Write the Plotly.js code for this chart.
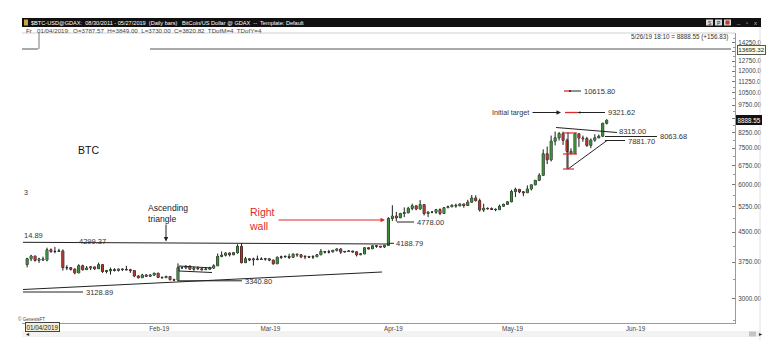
<!DOCTYPE html>
<html><head><meta charset="utf-8">
<script src="https://cdn.plot.ly/plotly-3.0.1.min.js"></script>
<style>html,body{margin:0;padding:0;background:#fff;}#chart{width:783px;height:355px;}</style>
</head><body><div id="chart"></div>
<script>
const dates = [
'2019-01-01','2019-01-02','2019-01-03','2019-01-04','2019-01-05','2019-01-06','2019-01-07','2019-01-08','2019-01-09','2019-01-10',
'2019-01-11','2019-01-12','2019-01-13','2019-01-14','2019-01-15','2019-01-16','2019-01-17','2019-01-18','2019-01-19','2019-01-20',
'2019-01-21','2019-01-22','2019-01-23','2019-01-24','2019-01-25','2019-01-26','2019-01-27','2019-01-28','2019-01-29','2019-01-30','2019-01-31',
'2019-02-01','2019-02-02','2019-02-03','2019-02-04','2019-02-05','2019-02-06','2019-02-07','2019-02-08','2019-02-09','2019-02-10',
'2019-02-11','2019-02-12','2019-02-13','2019-02-14','2019-02-15','2019-02-16','2019-02-17','2019-02-18','2019-02-19','2019-02-20',
'2019-02-21','2019-02-22','2019-02-23','2019-02-24','2019-02-25','2019-02-26','2019-02-27','2019-02-28',
'2019-03-01','2019-03-02','2019-03-03','2019-03-04','2019-03-05','2019-03-06','2019-03-07','2019-03-08','2019-03-09','2019-03-10',
'2019-03-11','2019-03-12','2019-03-13','2019-03-14','2019-03-15','2019-03-16','2019-03-17','2019-03-18','2019-03-19','2019-03-20',
'2019-03-21','2019-03-22','2019-03-23','2019-03-24','2019-03-25','2019-03-26','2019-03-27','2019-03-28','2019-03-29','2019-03-30','2019-03-31',
'2019-04-01','2019-04-02','2019-04-03','2019-04-04','2019-04-05','2019-04-06','2019-04-07','2019-04-08','2019-04-09','2019-04-10',
'2019-04-11','2019-04-12','2019-04-13','2019-04-14','2019-04-15','2019-04-16','2019-04-17','2019-04-18','2019-04-19','2019-04-20',
'2019-04-21','2019-04-22','2019-04-23','2019-04-24','2019-04-25','2019-04-26','2019-04-27','2019-04-28','2019-04-29','2019-04-30',
'2019-05-01','2019-05-02','2019-05-03','2019-05-04','2019-05-05','2019-05-06','2019-05-07','2019-05-08','2019-05-09','2019-05-10',
'2019-05-11','2019-05-12','2019-05-13','2019-05-14','2019-05-15','2019-05-16','2019-05-17','2019-05-18','2019-05-19','2019-05-20',
'2019-05-21','2019-05-22','2019-05-23','2019-05-24','2019-05-25','2019-05-26','2019-05-27'];

const opens = [
3693,3826,3890,3787.57,3820.82,3798,4040,3997,4000,4010,3625,3622,3590,3510,3665,3580,3617,3640,3600,3690,3540,3555,3580,3565,3592,3585,3577,3560,3445,3410,3465,
3440,3465,3505,3415,3410,3435,3370,3360,3625,3620,3660,3590,3610,3600,3580,3590,3615,3665,3880,3910,3960,3920,3970,4125,3735,3825,3800,3820,
3810,3820,3825,3795,3710,3860,3870,3880,3860,3935,3920,3870,3880,3865,3875,3920,4000,3985,3990,4030,4060,3985,4000,4010,3990,3920,3940,4090,4065,4140,4130,
4110,4150,4890,4960,4910,5040,5060,5200,5280,5180,5320,5040,5080,5080,5160,5040,5220,5250,5300,5280,5340,5290,5400,5540,5450,5150,5200,5190,5170,5160,
5270,5330,5410,5760,5840,5750,5720,5850,6000,6170,6360,7250,6990,7830,7990,8200,7870,7360,7260,8190,7980,7950,7630,7880,7990,8070,8730];

const highs = [
3850,3918,3893,3849,3875,4093,4075,4112,4065,4050,3680,3635,3610,3700,3690,3660,3655,3645,3735,3700,3575,3625,3612,3600,3605,3665,3600,3565,3460,3490,3485,
3480,3510,3505,3435,3450,3440,3390,3720,3645,3665,3665,3645,3650,3610,3640,3645,3700,3950,4000,3980,3980,3985,4180,4210,3870,3830,3850,3900,
3860,3840,3830,3805,3880,3900,3905,3945,3950,3945,3925,3910,3885,3910,3930,4060,4010,4040,4035,4070,4080,4010,4020,4015,4000,3950,4100,4095,4150,4150,4130,
4165,4930,5300,5090,5060,5230,5250,5350,5285,5470,5330,5110,5110,5180,5200,5240,5290,5330,5350,5360,5350,5480,5640,5630,5520,5350,5230,5230,5200,5320,
5350,5430,5820,5900,5850,5780,5980,6000,6180,6440,7450,7580,8100,8300,8280,8300,7950,7500,8250,8190,8100,8040,7960,8170,8150,8760,8950];

const lows = [
3630,3770,3758,3730,3780,3765,3968,3955,3985,3560,3570,3560,3480,3505,3560,3575,3570,3575,3595,3510,3500,3475,3540,3540,3550,3570,3510,3420,3390,3400,3430,
3425,3445,3400,3390,3400,3350,3340.8,3350,3600,3590,3585,3555,3580,3560,3575,3590,3600,3660,3860,3880,3880,3910,3945,3720,3735,3770,3670,3790,
3800,3780,3770,3690,3705,3820,3850,3820,3855,3870,3840,3815,3840,3820,3860,3910,3950,3950,3975,4000,3940,3975,3985,3970,3880,3910,3935,4050,4060,4090,4100,
4085,4150,4815,4800,4900,4930,5050,5140,5140,5160,4980,4930,5050,5030,4990,5030,5210,5240,5220,5270,5220,5280,5390,5420,5100,5090,5160,5150,5110,5150,
5260,5320,5400,5570,5700,5600,5715,5800,5990,6140,6360,6810,6920,7630,7860,7650,6600,7230,7260,7560,7800,7560,7500,7800,7970,8040,8670];

const closes = [
3826,3890,3787.57,3820.82,3798,4040,3997,4000,4010,3625,3622,3590,3510,3665,3580,3617,3640,3600,3690,3540,3555,3580,3565,3592,3585,3577,3560,3445,3410,3465,3440,
3465,3505,3415,3410,3435,3370,3360,3625,3620,3660,3590,3610,3600,3580,3590,3615,3665,3880,3910,3960,3920,3970,4125,3735,3825,3800,3820,3810,
3820,3825,3795,3710,3860,3870,3880,3860,3935,3920,3870,3880,3865,3875,3920,4000,3985,3990,4030,4060,3985,4000,4010,3990,3920,3940,4090,4065,4140,4130,4110,
4150,4890,4960,4910,5040,5060,5200,5280,5180,5320,5040,5080,5080,5160,5040,5220,5250,5300,5280,5340,5290,5400,5540,5450,5150,5200,5190,5170,5160,5270,
5330,5410,5760,5840,5750,5720,5850,6000,6170,6360,7250,6990,7830,7990,8200,7870,7360,7260,8190,7980,7950,7630,7880,7990,8070,8730,8888.55];

const yTickVals = [3000,3750,4500,5250,6000,6750,7500,8250,9000,9750,10500,11250,12000,12750,13500,14250];
const yTickText = ['3000.00','3750.00','4500.00','5250.00','6000.00','6750.00','7500.00','8250.00','','9750.00','10500.0','11250.0','12000.0','12750.0','','14250.0'];
const yMinorVals = [2625,3375,4125,4875,5625,6375,7125,7875,8625,9375,10125,10875,11625,12375,13125,13875,14625];
const xTickVals = ['2019-02-01','2019-03-01','2019-04-01','2019-05-01','2019-06-01'];
const xTickText = ['Feb-19','Mar-19','Apr-19','May-19','Jun-19'];

// ---- pixel helpers for decorations (plot area 22..735 x 33..323) ----
const PL=22, PR=735, PT=33, PB=323;
const px = x => (x-PL)/(PR-PL);
const py = y => (PB-y)/(PB-PT);
const FONT = 'Arial, "Liberation Sans", sans-serif';
const shapes = [];
const ann = [];
function Ln(x0,y0,x1,y1,color,w,dash){shapes.push({type:'line',xref:'paper',yref:'paper',x0:px(x0),y0:py(y0),x1:px(x1),y1:py(y1),line:{color:color||'#222',width:w||1,dash:dash||'solid'}});}
function Rect(x0,y0,x1,y1,fill,layer){shapes.push({type:'rect',xref:'paper',yref:'paper',x0:px(x0),y0:py(y0),x1:px(x1),y1:py(y1),fillcolor:fill,line:{color:'rgba(0,0,0,0)',width:0},layer:layer||'above'});}
function Dot(x,y,r,c){shapes.push({type:'circle',xref:'paper',yref:'paper',x0:px(x-r),y0:py(y+r),x1:px(x+r),y1:py(y-r),fillcolor:c,line:{color:c,width:0}});}
function T(x,y,text,size,color,anchor,extra){ann.push(Object.assign({xref:'paper',yref:'paper',x:px(x),y:py(y),text:text,showarrow:false,xanchor:anchor||'left',yanchor:'middle',font:{family:FONT,size:size||7.5,color:color||'#333'},borderpad:0,align:'left'},extra||{}));}
function Arrow(hx,hy,tx,ty,color){ann.push({xref:'paper',yref:'paper',x:px(hx),y:py(hy),ax:tx-hx,ay:ty-hy,axref:'pixel',ayref:'pixel',text:'',showarrow:true,arrowhead:2,arrowsize:0.9,arrowwidth:1,arrowcolor:color});}

// window frame / header
Rect(22,18,761,27,'#111');
Rect(24,19.5,28,25.5,'#c9a640');
T(30,22.6,'$BTC-USD@GDAX:  08/30/2011 - 05/27/2019  (Daily bars)   BitCoin/US Dollar @ GDAX  --  Template: Default',5.6,'#ffffff');
Rect(706,19.5,713,25.5,'#d8d8d8'); T(709.5,22.6,'S',5,'#222','center');
Rect(715,19.5,722,25.5,'#d8d8d8'); T(718.5,22.6,'P',5,'#222','center');
Rect(724,19.5,731,25.5,'#d8d8d8'); Rect(725.5,20.5,729.5,24.5,'#c0392b');
T(738,22,'_',6,'#bbb','center'); T(747,22.6,'▫',6,'#bbb','center'); T(756,22.6,'x',6,'#bbb','center');
T(25,30,'Fr   01/04/2019:  O=3787.57  H=3849.00  L=3730.00  C=3820.82  TDofM=4  TDofY=4',6.2,'#444');
Ln(22,33,735,33,'#d0d0d0',1);
Ln(760,27,760,340,'#e2e2e2',1);
T(729,37,'5/26/19 18:10 = 8888.55 (+156.83)',6.3,'#333','right');
// crosshair
Ln(39,33,39,49,'#777',1);
Ln(22,49,38,49,'#555',1);
Ln(150,49,731,49,'#555',1);
T(737,50,'13695.32',6.2,'#222','left',{bgcolor:'#fdfbe3',bordercolor:'#555',borderwidth:1,borderpad:0.3});
T(736,119.5,'8888.55',6.3,'#ffffff','left',{bgcolor:'#111',bordercolor:'#111',borderwidth:1,borderpad:0.5});

// text labels
T(77,149.5,'BTC',10.5,'#111');
T(23,192,'3',7,'#333');
T(23,235.5,'14.89',7.5,'#333');
// resistance
Ln(23,242.3,389,244,'#222',1);
T(78,241.7,'4299.37',7.5,'#333');
// support
Ln(23,289.5,382,272,'#222',1);
Ln(23,292,83,292,'#222',1);
T(85,292.5,'3128.89',7.5,'#333');
Ln(178,280.8,242,280.8,'#222',1);
T(244,281.3,'3340.80',7.5,'#333');
// flag
Ln(179,266,212,268,'#222',1);
Ln(179,271,212,272.5,'#222',1);
Ln(179,266,179,271,'#222',1);
// ascending triangle text + arrow
T(147,213,'Ascending<br>triangle',8.6,'#222');
Arrow(166,241.5,166,223,'#222');
// right wall
T(248,219,'Right<br>wall',10.5,'#e02a2a');
Arrow(385,220,277,220,'#e02a2a');
// April labels
Ln(389,243.3,394,243.3,'#222',1);
T(395,243.5,'4188.79',7.5,'#333');
Ln(397,222,414,222,'#222',1);
T(416,222.3,'4778.00',7.5,'#333');
// targets
Ln(564,91,570,91,'#e02a2a',1.3);
Ln(570,91,581,91,'#222',1);
Dot(570,91,1,'#222');
T(583,91.3,'10615.80',7.5,'#333');
Ln(565,112.5,578,112.5,'#e02a2a',1.3);
Ln(578,112.5,605,112.5,'#222',1);
Dot(580,112.5,1,'#222');
T(607,112.6,'9321.62',7.5,'#333');
T(530,112.3,'Initial target',7.2,'#333','right');
Arrow(561,112.5,531,112.5,'#222');
// symmetrical triangle
Ln(556,127.5,617,132.5,'#222',1);
Ln(568,169,607,140.5,'#222',1);
Ln(568,132,568,169,'#222',1);
Ln(563,133,577,133,'#e02a2a',1.2);
Ln(563,154,577,154,'#e02a2a',1.2);
Ln(563,169,574,169,'#e02a2a',1.2);
T(618,131.5,'8315.00',7.5,'#333');
Ln(605,136.5,657,136.5,'#222',1);
T(659,136.6,'8063.68',7.5,'#333');
Ln(605,140.5,625,140.5,'#222',1);
T(627,141,'7881.70',7.5,'#333');

// bottom
T(17,319,'© GenesisFT',4.6,'#444');
T(25,326.6,'01/04/2019',6.3,'#222','left',{bgcolor:'#f4efd8',bordercolor:'#444',borderwidth:1,borderpad:0.5});
Rect(22,331,760,337,'#f2f2f2','below');
T(25,334,'◂',6,'#222');
Rect(749,331.5,756,336.5,'#c4c4c4','below');
T(757.5,334,'▸',6,'#222');

const traces = [
  {type:'candlestick', x:dates, open:opens, high:highs, low:lows, close:closes,
   increasing:{line:{color:'#1e1e1e',width:1},fillcolor:'#1e1e1e'},
   decreasing:{line:{color:'#1e1e1e',width:1},fillcolor:'#1e1e1e'},
   whiskerwidth:0, hoverinfo:'skip', showlegend:false},
  {type:'candlestick', x:dates, open:opens, high:highs, low:lows, close:closes,
   increasing:{line:{color:'rgba(0,0,0,0)',width:0},fillcolor:'#3b8e3b'},
   decreasing:{line:{color:'rgba(0,0,0,0)',width:0},fillcolor:'#ad3a30'},
   whiskerwidth:0, hoverinfo:'skip', showlegend:false}
];

const layout = {
  width:783, height:355,
  margin:{l:PL, r:783-PR, t:PT, b:355-PB, pad:0},
  paper_bgcolor:'#ffffff', plot_bgcolor:'#ffffff',
  font:{family:FONT, size:7, color:'#444'},
  showlegend:false, hovermode:false,
  xaxis:{type:'date', range:['2018-12-30 17:00','2019-06-28 07:30'],
    rangeslider:{visible:false}, tickmode:'array', tickvals:xTickVals, ticktext:xTickText,
    tickfont:{family:FONT,size:6.3,color:'#444'}, ticks:'', showgrid:false, zeroline:false,
    showline:true, linecolor:'#9a9a9a', linewidth:1, ticklabelshift:9, ticklabelstandoff:-1},
  yaxis:{type:'log', side:'right', range:[Math.log10(2587), Math.log10(15130)],
    tickmode:'array', tickvals:yTickVals, ticktext:yTickText,
    tickfont:{family:FONT,size:6.3,color:'#444'}, ticks:'inside', ticklen:3, tickcolor:'#777',
    minor:{tickmode:'array', tickvals:yMinorVals, ticks:'inside', ticklen:2, tickcolor:'#999'},
    showgrid:false, zeroline:false, showline:true, linecolor:'#9a9a9a', linewidth:1, ticklabelstandoff:1},
  shapes:shapes, annotations:ann
};
Plotly.newPlot('chart', traces, layout, {displayModeBar:false, staticPlot:true});
</script></body></html>
